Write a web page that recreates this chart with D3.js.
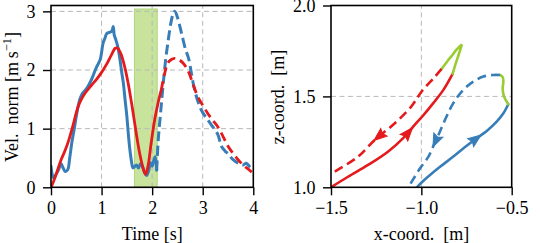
<!DOCTYPE html>
<html><head><meta charset="utf-8">
<script src="https://cdn.jsdelivr.net/npm/d3@7"></script>
<style>
body{margin:0;background:#fff}
svg{display:block}
</style>
</head><body><svg id="c" width="540" height="243"></svg>
<script>
// ---------- Left panel data: velocity norm vs time ----------
const timeTicks = [0, 1, 2, 3, 4];
const velTicks = [0, 1, 2, 3];
const bandT = [1.65, 2.1];
const bandV = [0, 3.04];

const redSolidT = [0,0.05,0.12,0.2,0.28,0.35,0.43,0.53,0.6,0.67,0.8,0.9,1.0,1.1,1.19,1.27,1.32,1.38,1.45,1.52,1.6,1.68,1.76,1.83,1.87,1.92,1.98,2.05,2.12,2.18];
const redSolidV = [0,0.1,0.27,0.47,0.63,0.8,1.04,1.36,1.5,1.6,1.74,1.84,1.96,2.1,2.25,2.37,2.37,2.28,2.08,1.8,1.4,0.95,0.55,0.3,0.22,0.37,0.75,1.15,1.45,1.66];
const redDashT = [2.18,2.25,2.31,2.38,2.44,2.52,2.61,2.71,2.8,2.9,3.0,3.1,3.2,3.3,3.4,3.5,3.6,3.7,3.8,3.9,3.97];
const redDashV = [1.66,1.95,2.12,2.18,2.2,2.18,2.12,1.99,1.78,1.55,1.4,1.26,1.14,1.03,0.87,0.7,0.58,0.47,0.38,0.31,0.26];

const blueSolidT = [0,0.03,0.06,0.1,0.15,0.2,0.24,0.28,0.33,0.37,0.41,0.46,0.51,0.57,0.62,0.71,0.78,0.84,0.9,0.97,1.0,1.03,1.07,1.1,1.15,1.2,1.23,1.25,1.28,1.32,1.36,1.4,1.43,1.47,1.5,1.53,1.56,1.59,1.62,1.65,1.69,1.73,1.77,1.81,1.85,1.89,1.93,1.97,2.0,2.03,2.06,2.09];
const blueSolidV = [0.36,0.2,0.15,0.22,0.3,0.4,0.33,0.27,0.3,0.5,0.75,1.0,1.26,1.5,1.6,1.69,1.8,1.92,2.05,2.17,2.3,2.46,2.55,2.62,2.64,2.66,2.74,2.6,2.52,2.4,2.2,1.95,1.78,1.45,1.21,0.9,0.64,0.45,0.33,0.35,0.38,0.33,0.4,0.35,0.25,0.2,0.28,0.42,0.36,0.45,0.52,0.29];
const blueDashT = [2.09,2.12,2.17,2.22,2.27,2.32,2.37,2.42,2.45,2.5,2.58,2.66,2.72,2.84,2.97,3.1,3.2,3.3,3.37,3.44,3.5,3.6,3.7,3.79,3.86,3.93,4.0];
const blueDashV = [0.29,0.8,1.3,1.78,2.2,2.52,2.8,2.97,3.0,2.9,2.63,2.35,2.2,1.66,1.32,1.15,1.03,0.9,0.7,0.62,0.57,0.47,0.41,0.38,0.41,0.35,0.3];

// ---------- Right panel data: trajectory in x-z plane ----------
const xTicks = [-1.5, -1.0, -0.5];
const zTicks = [1.0, 1.5, 2.0];

const redOutX = [-1.5,-1.406,-1.295,-1.185,-1.092,-1.037,-0.99,-0.934,-0.878,-0.827];
const redOutZ = [1.0,1.058,1.123,1.196,1.279,1.343,1.395,1.463,1.536,1.624];
const redTurnX = [-0.827,-0.81,-0.795,-0.782,-0.777,-0.788,-0.808,-0.83,-0.855,-0.888];
const redTurnZ = [1.624,1.68,1.725,1.765,1.782,1.775,1.755,1.725,1.695,1.651];
const redBackX = [-0.888,-0.924,-0.998,-1.056,-1.147,-1.258,-1.351,-1.48];
const redBackZ = [1.651,1.609,1.527,1.444,1.352,1.26,1.168,1.086];

const blueOutX = [-1.025,-0.99,-0.952,-0.9,-0.823,-0.76,-0.694,-0.638,-0.583,-0.546,-0.519];
const blueOutZ = [1.0,1.035,1.068,1.11,1.169,1.22,1.27,1.31,1.361,1.407,1.457];
const blueTurnX = [-0.519,-0.543,-0.55,-0.546,-0.55,-0.565];
const blueTurnZ = [1.457,1.5,1.545,1.581,1.606,1.618];
const blueBackX = [-0.565,-0.602,-0.657,-0.712,-0.768,-0.823,-0.865,-0.9,-0.93,-0.96,-1.007,-1.053,-1.072];
const blueBackZ = [1.618,1.618,1.609,1.581,1.536,1.463,1.38,1.3,1.235,1.17,1.105,1.031,1.0];

// arrow anchor points (data coords) on each trajectory part
const redOutArrow = [-1.072, 1.297];
const redBackArrow = [-1.238, 1.288];
const blueOutArrow = [-0.703, 1.27];
const blueBackArrow = [-0.906, 1.251];

// ---------- styles ----------
const FONT = "'Liberation Serif', 'DejaVu Serif', serif";
const RED = "#e41a1c", BLUE = "#377eb8", GREEN = "#99cc33";
const svg = d3.select("#c");
const zip = (a, b) => a.map((v, i) => [v, b[i]]);

function panel(id, x, y, xt, yt, xfmt, yfmt) {
  const g = svg.append("g");
  const [x0, x1] = x.range(), [y0, y1] = y.range();
  g.append("clipPath").attr("id", id).append("rect")
    .attr("x", x0).attr("y", y1).attr("width", x1 - x0).attr("height", y0 - y1);
  const ax = g.append("g").attr("transform", `translate(0,${y0})`)
    .call(d3.axisBottom(x).tickValues(xt).tickFormat(xfmt).tickSize(8).tickPadding(6));
  const ay = g.append("g").attr("transform", `translate(${x0},0)`)
    .call(d3.axisLeft(y).tickValues(yt).tickFormat(yfmt).tickSize(8).tickPadding(7.5));
  [ax, ay].forEach(a => {
    a.attr("font-family", FONT).attr("font-size", 18);
    a.select(".domain").remove();
    a.selectAll("line").attr("stroke", "#000").attr("stroke-width", 1.4);
    a.selectAll("text").attr("font-size", 18).attr("font-family", FONT).attr("fill", "#000");
  });
  return g;
}

function grid(g, x, y, gx, gy) {
  const [x0, x1] = x.range(), [y0, y1] = y.range();
  g.append("g").selectAll("line").data(gx).join("line")
    .attr("x1", d => x(d)).attr("x2", d => x(d)).attr("y1", y0).attr("y2", y1)
    .attr("stroke", "#b8b8b8").attr("stroke-width", 1).attr("stroke-dasharray", "5,3.5");
  g.append("g").selectAll("line").data(gy).join("line")
    .attr("x1", x0).attr("x2", x1).attr("y1", d => y(d)).attr("y2", d => y(d))
    .attr("stroke", "#b8b8b8").attr("stroke-width", 1).attr("stroke-dasharray", "5,3.5");
}

function frame(g, x, y) {
  const [x0, x1] = x.range(), [y0, y1] = y.range();
  g.append("rect").attr("x", x0).attr("y", y1).attr("width", x1 - x0).attr("height", y0 - y1)
    .attr("fill", "none").attr("stroke", "#000").attr("stroke-width", 1.6);
}

function drawLine(g, clip, pts, x, y, color, w, dash) {
  const line = d3.line().x(d => x(d[0])).y(d => y(d[1])).curve(d3.curveCatmullRom.alpha(0.5));
  return g.append("path").attr("d", line(pts)).attr("fill", "none")
    .attr("stroke", color).attr("stroke-width", w)
    .attr("stroke-dasharray", dash || null)
    .attr("stroke-linejoin", "round").attr("stroke-linecap", dash ? "butt" : "round")
    .attr("clip-path", `url(#${clip})`);
}

function arrow(g, pathSel, target, x, y, color) {
  const node = pathSel.node();
  const L = node.getTotalLength();
  const tx = x(target[0]), ty = y(target[1]);
  let best = 0, bd = Infinity;
  for (let l = 0; l <= L; l += 0.5) {
    const p = node.getPointAtLength(l);
    const d = (p.x - tx) ** 2 + (p.y - ty) ** 2;
    if (d < bd) { bd = d; best = l; }
  }
  const p = node.getPointAtLength(best);
  const a = node.getPointAtLength(Math.max(0, best - 2));
  const b = node.getPointAtLength(Math.min(L, best + 2));
  const ang = Math.atan2(b.y - a.y, b.x - a.x) * 180 / Math.PI;
  g.append("path").attr("d", "M7,0 L-6,-5 L-4,0 L-6,5 Z")
    .attr("fill", color).attr("stroke", color).attr("stroke-width", 1).attr("stroke-linejoin", "miter")
    .attr("transform", `translate(${p.x},${p.y}) rotate(${ang})`);
}

function label(g, x, y, rot) {
  return g.append("text")
    .attr("transform", rot ? `translate(${x},${y}) rotate(-90)` : `translate(${x},${y})`)
    .attr("text-anchor", "middle").attr("font-size", 18)
    .attr("font-family", FONT).attr("fill", "#000");
}

// ================= Left panel =================
const xL = d3.scaleLinear().domain([0, 4]).range([51, 253.3]);
const yL = d3.scaleLinear().domain([0, 3.1]).range([187.3, 5.5]);
const gL = panel("clipL", xL, yL, timeTicks, velTicks, d3.format("d"), d3.format("d"));
gL.append("rect").attr("x", xL(bandT[0])).attr("width", xL(bandT[1]) - xL(bandT[0]))
  .attr("y", yL(bandV[1])).attr("height", yL(bandV[0]) - yL(bandV[1]))
  .attr("fill", "#c8e49c").attr("stroke", "#aed67a").attr("stroke-width", 1);
grid(gL, xL, yL, [1, 2, 3], [1, 2, 3]);
drawLine(gL, "clipL", zip(blueSolidT, blueSolidV), xL, yL, BLUE, 3);
drawLine(gL, "clipL", zip(blueDashT, blueDashV), xL, yL, BLUE, 3, "10,4.5");
drawLine(gL, "clipL", zip(redSolidT, redSolidV), xL, yL, RED, 2.8);
drawLine(gL, "clipL", zip(redDashT, redDashV), xL, yL, RED, 2.8, "9,5");
frame(gL, xL, yL);
label(gL, 152.2, 239.5, false).text("Time [s]");
const yl = label(gL, 17.5, 97, true);
yl.append("tspan").text("Vel.\u2002norm [m\u2009s");
yl.append("tspan").attr("font-size", 12.5).attr("dy", -7).text("\u22121");
yl.append("tspan").attr("dy", 7).text("]");

// ================= Right panel =================
const xR = d3.scaleLinear().domain([-1.5, -0.5]).range([331, 511.7]);
const yR = d3.scaleLinear().domain([1.0, 2.0]).range([187.3, 5.5]);
const gR = panel("clipR", xR, yR, xTicks, zTicks, d3.format(".1f"), d3.format(".1f"));
grid(gR, xR, yR, [-1.0], [1.5]);
const bo = drawLine(gR, "clipR", zip(blueOutX, blueOutZ), xR, yR, BLUE, 2.6);
drawLine(gR, "clipR", zip(blueTurnX, blueTurnZ), xR, yR, GREEN, 2.6);
const bb = drawLine(gR, "clipR", zip(blueBackX, blueBackZ), xR, yR, BLUE, 2.6, "9,5");
const ro = drawLine(gR, "clipR", zip(redOutX, redOutZ), xR, yR, RED, 2.6);
drawLine(gR, "clipR", zip(redTurnX, redTurnZ), xR, yR, GREEN, 2.6);
const rb = drawLine(gR, "clipR", zip(redBackX, redBackZ), xR, yR, RED, 2.6, "9,5");
arrow(gR, ro, redOutArrow, xR, yR, RED);
arrow(gR, rb, redBackArrow, xR, yR, RED);
arrow(gR, bo, blueOutArrow, xR, yR, BLUE);
arrow(gR, bb, blueBackArrow, xR, yR, BLUE);
frame(gR, xR, yR);
label(gR, 421.4, 239.5, false).text("x-coord.\u2002[m]");
label(gR, 284, 97, true).text("z-coord.\u2002[m]");
</script></body></html>
